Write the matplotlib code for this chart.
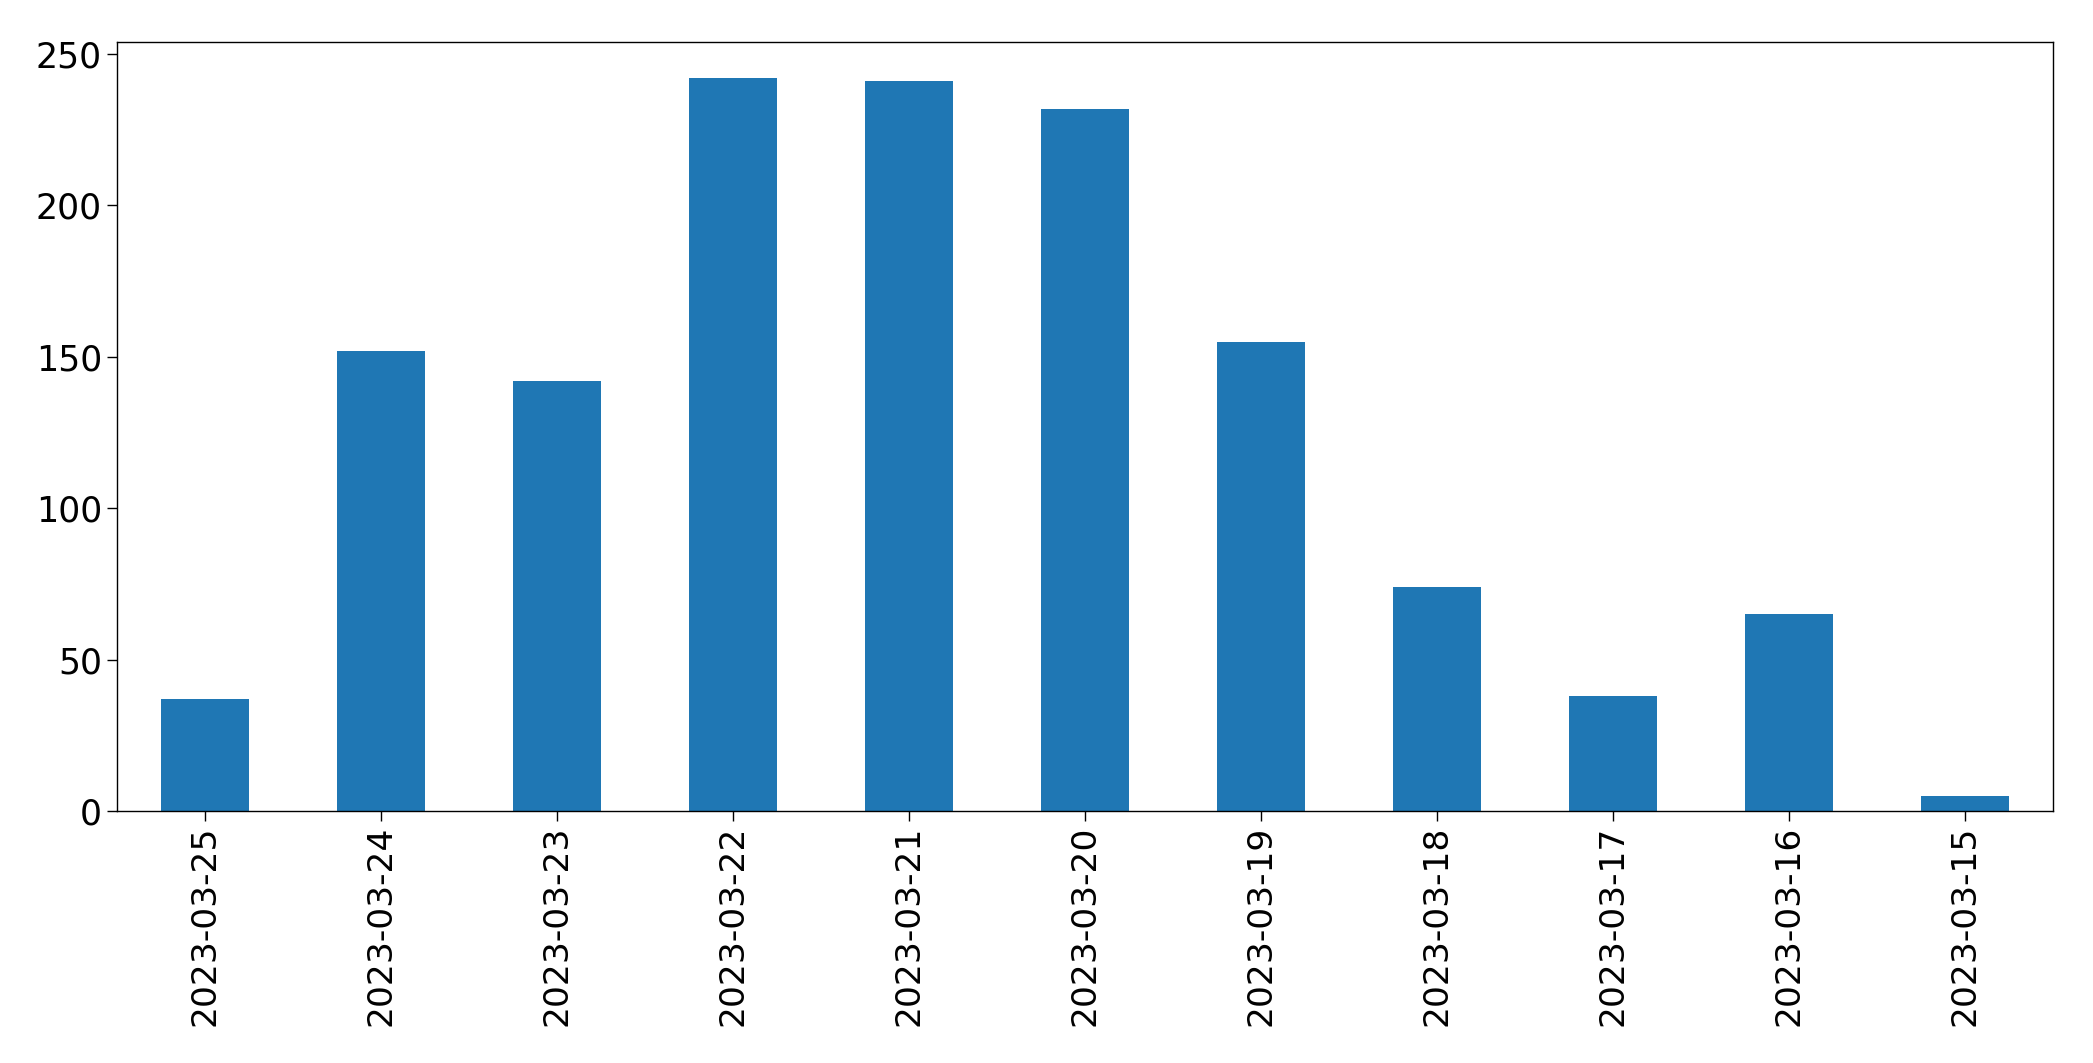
import matplotlib
matplotlib.use('Agg')
import matplotlib.pyplot as plt

# counts per day, newest first
dates = ['2023-03-25', '2023-03-24', '2023-03-23', '2023-03-22', '2023-03-21',
         '2023-03-20', '2023-03-19', '2023-03-18', '2023-03-17', '2023-03-16',
         '2023-03-15']
counts = [37, 152, 142, 242, 241, 232, 155, 74, 38, 65, 5]

fig = plt.figure(figsize=(20.93, 10.63), dpi=100)
ax = fig.add_axes([0.0558, 0.2371, 0.9809 - 0.0558, 0.9608 - 0.2371])

x = range(len(dates))
ax.bar(x, counts, width=0.5, color='#1f77b4')
ax.set_xlim(-0.5, len(dates) - 0.5)
ax.set_xticks(list(x))
ax.set_xticklabels(dates, rotation=90, fontsize=24.8)
ax.set_yticks([0, 50, 100, 150, 200, 250])
ax.tick_params(axis='y', labelsize=25)
ax.tick_params(length=7.2, width=1)
for s in ax.spines.values():
    s.set_linewidth(1)

fig.savefig('out.png', dpi=100)
